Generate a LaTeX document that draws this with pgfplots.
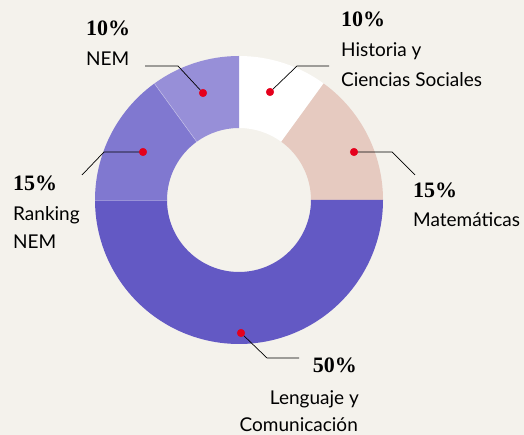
\documentclass[border=0pt]{standalone}
\usepackage{pgfplots}
\pgfplotsset{compat=1.18}
\usepackage{fontspec}
\setmainfont{Lato}
\newfontfamily\pctfont{Liberation Serif}
\usetikzlibrary{calc}
\definecolor{bg}{HTML}{F4F2EC}
\definecolor{cHist}{HTML}{FFFFFF}
\definecolor{cMat}{HTML}{E6CAC0}
\definecolor{cLen}{HTML}{6359C4}
\definecolor{cRank}{HTML}{8078D0}
\definecolor{cNem}{HTML}{978FD8}
\definecolor{dotred}{HTML}{E5001C}
% annular sector from cumulative percent #2 to #3
\newcommand{\seg}[3]{\fill[#1] ($(axis cs:239,235)+({90-3.6*#2}:144pt)$) arc[start angle={90-3.6*#2}, end angle={90-3.6*#3}, radius=144pt] -- ($(axis cs:239,235)+({90-3.6*#3}:72pt)$) arc[start angle={90-3.6*#3}, end angle={90-3.6*#2}, radius=72pt] -- cycle;}
\newcommand{\sep}[1]{\draw[white, opacity=0.35, line width=0.6pt] ($(axis cs:239,235)+({90-3.6*#1}:72pt)$) -- ($(axis cs:239,235)+({90-3.6*#1}:144pt)$);}
\newcommand{\pct}{\pctfont\bfseries\fontsize{22}{24}\selectfont}
\newcommand{\lab}{\fontsize{19}{24}\selectfont}
\begin{document}
\begin{tikzpicture}
\begin{axis}[name=ax, x=1pt, y=1pt, xmin=0, xmax=524, ymin=0, ymax=435,
  hide axis, clip=false, enlargelimits=false]
\fill[bg] (axis cs:0,0) rectangle (axis cs:524,435);
% shares (percent): Historia 10, Matematicas 15, Lenguaje 50, Ranking 15, NEM 10
\seg{cHist}{0}{10}
\seg{cMat}{10}{25}
\seg{cLen}{25}{75}
\seg{cRank}{75}{90}
\seg{cNem}{90}{100}
\sep{75}
\sep{90}
% leader lines
\addplot[black, line width=0.7pt] coordinates {(145,369) (178,369) (203,342)};
\addplot[black, line width=0.7pt] coordinates {(329,369) (297,369) (270,343)};
\addplot[black, line width=0.7pt] coordinates {(143,283) (104,283) (82,260)};
\addplot[black, line width=0.7pt] coordinates {(354,283) (392,283) (415,260)};
\addplot[black, line width=0.7pt] coordinates {(241,102) (267,77) (299,77)};
% dots
\addplot[only marks, mark=*, mark size=3.8pt, color=dotred] coordinates {(203,342) (270,343) (143,283) (354,283) (241,102)};
% labels
\node[anchor=base west, inner sep=0] at (axis cs:86,399) {\pct 10\%};
\node[anchor=base west, inner sep=0] at (axis cs:86,369) {\lab NEM};
\node[anchor=base west, inner sep=0] at (axis cs:341,408) {\pct 10\%};
\node[anchor=base west, inner sep=0] at (axis cs:341,378) {\lab Historia y};
\node[anchor=base west, inner sep=0] at (axis cs:341,348) {\lab Ciencias Sociales};
\node[anchor=base west, inner sep=0] at (axis cs:13,244) {\pct 15\%};
\node[anchor=base west, inner sep=0] at (axis cs:13,214) {\lab Ranking};
\node[anchor=base west, inner sep=0] at (axis cs:13,186) {\lab NEM};
\node[anchor=base west, inner sep=0] at (axis cs:413,237) {\pct 15\%};
\node[anchor=base west, inner sep=0] at (axis cs:413,208) {\lab Matemáticas};
\node[anchor=base east, inner sep=0] at (axis cs:357,62) {\pct 50\%};
\node[anchor=base east, inner sep=0] at (axis cs:359,30) {\lab Lenguaje y};
\node[anchor=base east, inner sep=0] at (axis cs:358,3) {\lab Comunicación};
\end{axis}
\pgfresetboundingbox
\useasboundingbox (ax.south west) rectangle (ax.north east);
\end{tikzpicture}
\end{document}
